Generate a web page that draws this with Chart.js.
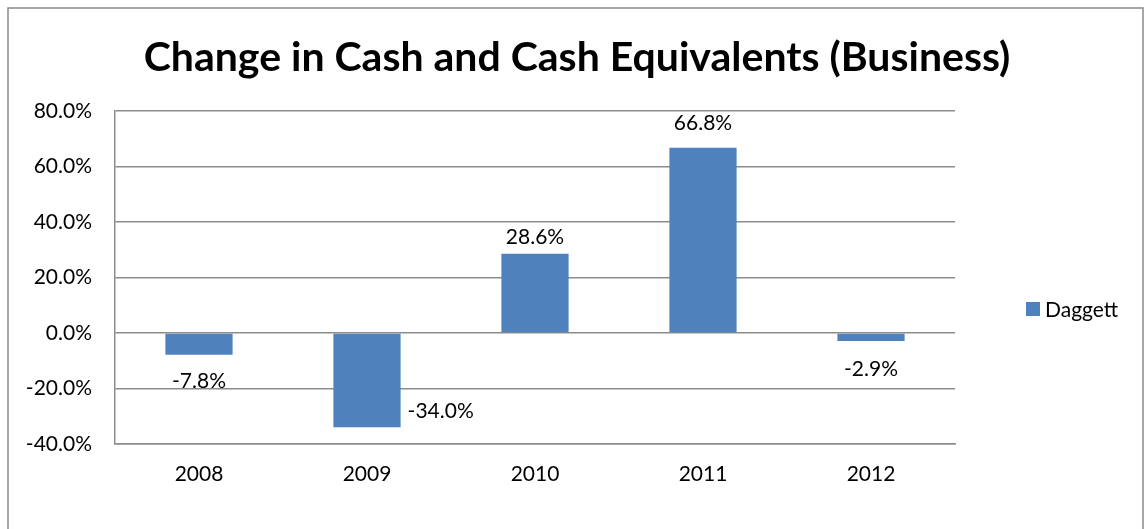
<!DOCTYPE html>
<html>
<head>
<meta charset="utf-8">
<script src="https://cdn.jsdelivr.net/npm/chart.js@4.4.0/dist/chart.umd.min.js"></script>
<style>
	html, body { margin: 0; padding: 0; background: #fff; }
	#wrap { width: 1148px; height: 529px; position: relative; }
</style>
</head>
<body>
<div id="wrap"><canvas id="main-chart" width="1148" height="529"></canvas></div>
<script>
const years = ['2008', '2009', '2010', '2011', '2012'];
const daggett = [-7.8, -34.0, 28.6, 66.8, -2.9];
const seriesName = 'Daggett';
const chartTitle = 'Change in Cash and Cash Equivalents (Business)';
const yTicks = [-40, -20, 0, 20, 40, 60, 80];
// where excel put each value label (side, vertical nudge)
const labelSide = ['below', 'right', 'above', 'above', 'below'];
const labelNudge = [27, -16, -16, -24, 28];

const FONT = 'Lato, "Liberation Sans", sans-serif';
const BAR = '#4F81BD';
const GRID = '#8c8c8c';

// title, value labels, legend and frame
const extras = {
	id: 'extras',
	beforeDraw(chart) {
		const c = chart.ctx;
		c.save();
		c.strokeStyle = '#8a8a8a';
		c.lineWidth = 1.5;
		c.strokeRect(8, 8, 1135, 600);
		c.fillStyle = '#000';
		c.font = 'bold 41px ' + FONT;
		c.textAlign = 'center';
		c.textBaseline = 'middle';
		c.fillText(chartTitle, 577, 58);
		c.restore();
	},
	afterDatasetsDraw(chart) {
		const c = chart.ctx;
		const meta = chart.getDatasetMeta(0);
		c.save();
		c.font = '21px ' + FONT;
		c.fillStyle = '#000';
		c.textBaseline = 'middle';
		meta.data.forEach((bar, i) => {
			const txt = daggett[i].toFixed(1) + '%';
			if (labelSide[i] === 'right') {
				c.textAlign = 'left';
				c.fillText(txt, bar.x + bar.width / 2 + 7, bar.y + labelNudge[i]);
			} else {
				c.textAlign = 'center';
				c.fillText(txt, bar.x, bar.y + labelNudge[i]);
			}
		});
		// legend
		c.fillStyle = BAR;
		c.fillRect(1026, 302, 14, 14);
		c.fillStyle = '#000';
		c.textAlign = 'left';
		c.font = '21px ' + FONT;
		c.fillText(seriesName, 1045, 310);
		c.restore();
	}
};

const app = {
	make() {
		const ctx = document.getElementById('main-chart');
		return new Chart(ctx, {
			type: 'bar',
			data: {
				labels: years,
				datasets: [{
					label: seriesName,
					data: daggett,
					backgroundColor: BAR,
					borderWidth: 0,
					categoryPercentage: 1.0,
					barPercentage: 0.4
				}]
			},
			options: {
				responsive: false,
				animation: false,
				layout: { padding: { left: 8, top: 111, right: 193, bottom: 0 } },
				plugins: {
					legend: { display: false },
					tooltip: { enabled: false },
					title: { display: false }
				},
				scales: {
					x: {
						grid: { display: false, drawTicks: false },
						border: { display: true, color: GRID, width: 1.5 },
						ticks: { color: '#000', font: { family: FONT, size: 21 }, padding: 18 },
						afterFit(s) { s.height = 85; }
					},
					y: {
						min: -40,
						max: 80,
						afterBuildTicks(s) { s.ticks = yTicks.map(v => ({ value: v })); },
						grid: { color: GRID, lineWidth: 1.5, drawTicks: false },
						border: { display: true, color: GRID, width: 1.5 },
						ticks: {
							color: '#000',
							font: { family: FONT, size: 21 },
							padding: 23,
							callback: v => v.toFixed(1) + '%'
						},
						afterFit(s) { s.width = 107; }
					}
				}
			},
			plugins: [extras]
		});
	}
};

app.make();
</script>
</body>
</html>
